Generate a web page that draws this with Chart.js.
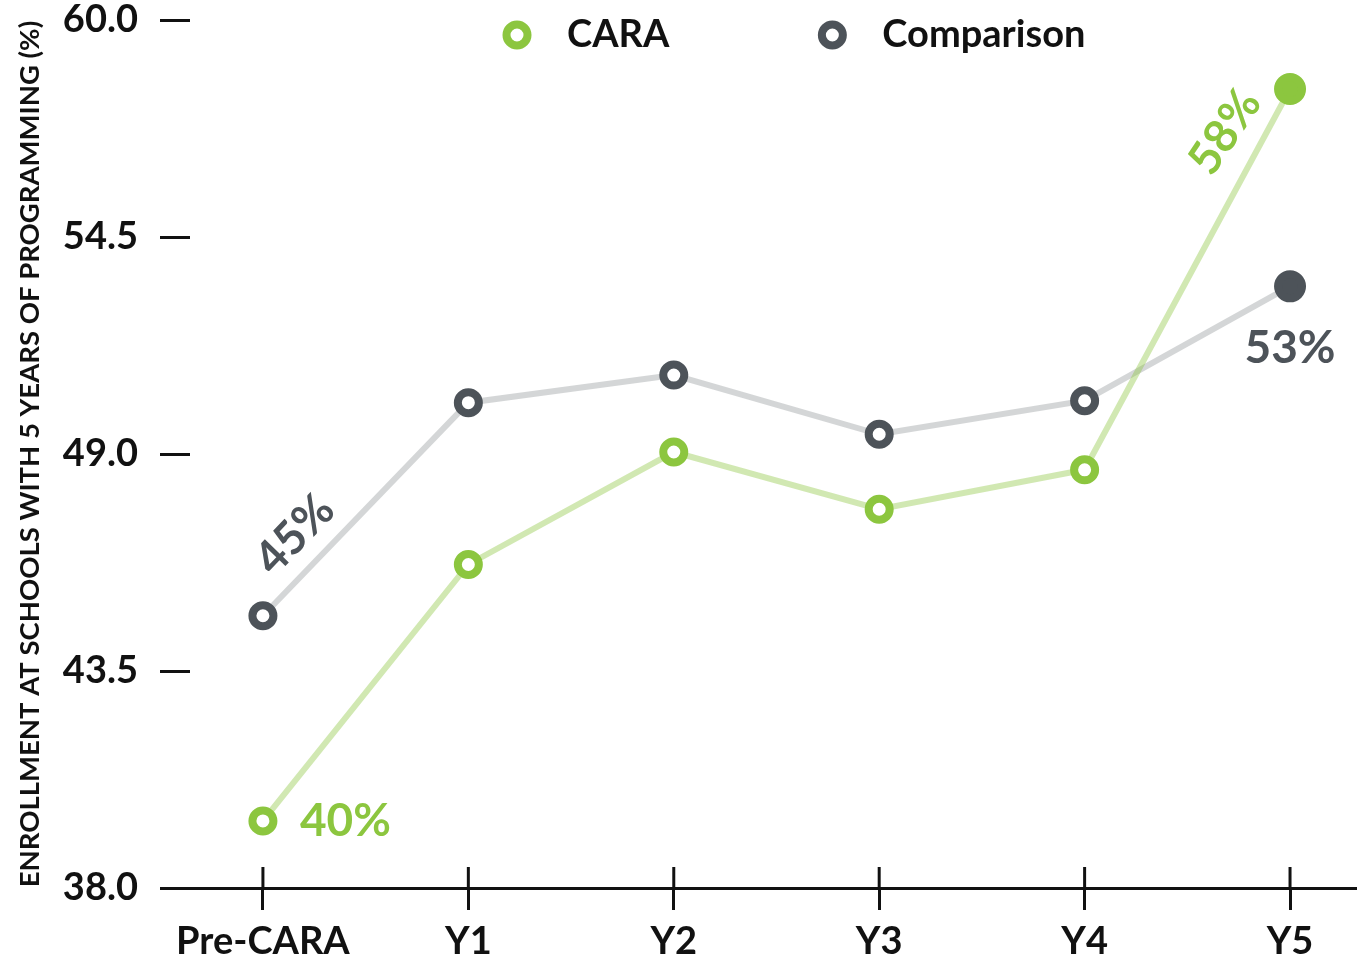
<!DOCTYPE html>
<html>
<head>
<meta charset="utf-8">
<title>Enrollment chart</title>
<script src="https://cdn.jsdelivr.net/npm/chart.js@4.4.1/dist/chart.umd.min.js"></script>
<style>
    html, body { margin: 0; padding: 0; background: #fff; overflow: hidden; }
    #wrap { width: 1357px; height: 964px; position: relative; }
    #lineChart { display: block; }
</style>
</head>
<body>
<div id="wrap"><canvas id="lineChart"></canvas></div>
<script>
// chart data
const categories = ["Pre-CARA", "Y1", "Y2", "Y3", "Y4", "Y5"];
const caraValues = [39.7, 46.2, 49.05, 47.6, 48.6, 58.25];
const comparisonValues = [44.9, 50.3, 51.0, 49.5, 50.35, 53.25];
const yTickValues = [38.0, 43.5, 49.0, 54.5, 60.0];

const green = "#8cc63f";
const greenLine = "rgba(141,198,63,0.4)";
const grey = "#4d5359";
const greyLine = "rgba(77,83,89,0.24)";
const fontFamily = "Lato, 'Noto Sans', sans-serif";

// which points get a value label, and where it sits
const pointLabels = [
    { dataset: 0, index: 0, dx: 37, dy: 0, rotate: 0, align: "left" },
    { dataset: 1, index: 0, dx: 32, dy: -81, rotate: -46, align: "center" },
    { dataset: 0, index: 5, dx: -65, dy: 43, rotate: -56, align: "center" },
    { dataset: 1, index: 5, dx: 0, dy: 62, rotate: 0, align: "center" }
];

const toPoints = (values) => values.map((v, i) => ({ x: i, y: v }));
const lastFilled = (values, color) => values.map((v, i) => i === values.length - 1 ? color : "#fff");
const lastBigger = (values) => values.map((v, i) => i === values.length - 1 ? 12 : 10.5);

// top legend drawn inside the plot area
const topLegend = {
    id: "topLegend",
    afterDraw(chart) {
        const ctx = chart.ctx;
        const area = chart.chartArea;
        ctx.save();
        ctx.font = "bold 38px " + fontFamily;
        ctx.textBaseline = "middle";
        let x = area.left + 327;
        const y = 35;
        chart.data.datasets.forEach((ds) => {
            ctx.beginPath();
            ctx.arc(x, y, 10.5, 0, Math.PI * 2);
            ctx.lineWidth = 8;
            ctx.strokeStyle = ds.pointBorderColor;
            ctx.fillStyle = "#fff";
            ctx.fill();
            ctx.stroke();
            ctx.fillStyle = "#111";
            ctx.textAlign = "left";
            ctx.fillText(ds.label, x + 50, y);
            x += 50 + ctx.measureText(ds.label).width + 163;
        });
        ctx.restore();
    }
};

// tick marks that cross the x axis line
const crossTicks = {
    id: "crossTicks",
    afterDraw(chart) {
        const ctx = chart.ctx;
        const xs = chart.scales.x;
        const bottom = chart.chartArea.bottom;
        ctx.save();
        ctx.strokeStyle = "#111";
        ctx.lineWidth = 3;
        xs.ticks.forEach((t) => {
            const px = xs.getPixelForValue(t.value);
            ctx.beginPath();
            ctx.moveTo(px, bottom - 21);
            ctx.lineTo(px, bottom);
            ctx.stroke();
        });
        ctx.restore();
    }
};

// percent labels next to selected points
const valueLabels = {
    id: "valueLabels",
    afterDatasetsDraw(chart) {
        const ctx = chart.ctx;
        ctx.save();
        ctx.font = "bold 46px " + fontFamily;
        ctx.textBaseline = "middle";
        pointLabels.forEach((lbl) => {
            const ds = chart.data.datasets[lbl.dataset];
            const pt = chart.getDatasetMeta(lbl.dataset).data[lbl.index];
            const value = ds.data[lbl.index].y;
            ctx.save();
            ctx.translate(pt.x + lbl.dx, pt.y + lbl.dy);
            ctx.rotate(lbl.rotate * Math.PI / 180);
            ctx.fillStyle = ds.pointBorderColor;
            ctx.textAlign = lbl.align;
            ctx.fillText(Math.round(value) + "%", 0, 0);
            ctx.restore();
        });
        ctx.restore();
    }
};

const ctx = document.getElementById("lineChart");

new Chart(ctx, {
    type: "line",
    data: {
        datasets: [{
            label: "CARA",
            data: toPoints(caraValues),
            borderColor: greenLine,
            borderWidth: 6,
            pointBorderColor: green,
            pointBackgroundColor: lastFilled(caraValues, green),
            pointRadius: lastBigger(caraValues),
            pointBorderWidth: 8,
            pointHoverRadius: 10.5,
            tension: 0
        }, {
            label: "Comparison",
            data: toPoints(comparisonValues),
            borderColor: greyLine,
            borderWidth: 6,
            pointBorderColor: grey,
            pointBackgroundColor: lastFilled(comparisonValues, grey),
            pointRadius: lastBigger(comparisonValues),
            pointBorderWidth: 8,
            pointHoverRadius: 10.5,
            tension: 0
        }]
    },
    options: {
        responsive: true,
        maintainAspectRatio: false,
        animation: false,
        layout: { autoPadding: false, padding: { top: 20, right: 0, bottom: 0, left: 0 } },
        plugins: {
            legend: { display: false },
            tooltip: { enabled: false }
        },
        scales: {
            x: {
                type: "linear",
                min: -0.355,
                max: 5.326,
                afterBuildTicks: (scale) => {
                    scale.ticks = categories.map((c, i) => ({ value: i }));
                },
                afterFit: (scale) => {
                    scale.height = 76;
                    scale.paddingLeft = 0;
                    scale.paddingRight = 0;
                },
                ticks: {
                    callback: (v) => categories[v],
                    color: "#111",
                    padding: 9,
                    maxRotation: 0,
                    autoSkip: false,
                    font: { family: fontFamily, size: 38, weight: "bold" }
                },
                grid: {
                    drawOnChartArea: false,
                    drawTicks: true,
                    tickLength: 22,
                    tickWidth: 3,
                    tickColor: "#111"
                },
                border: { display: true, color: "#111", width: 3 }
            },
            y: {
                min: 38,
                max: 60,
                afterBuildTicks: (scale) => {
                    scale.ticks = yTickValues.map((v) => ({ value: v }));
                },
                afterFit: (scale) => {
                    scale.width = 190;
                    scale.paddingTop = 0;
                    scale.paddingBottom = 0;
                },
                ticks: {
                    callback: (v) => v.toFixed(1),
                    color: "#111",
                    padding: 22,
                    font: { family: fontFamily, size: 38, weight: "bold" }
                },
                grid: {
                    drawOnChartArea: false,
                    drawTicks: true,
                    tickLength: 30,
                    tickWidth: 3,
                    tickColor: "#111"
                },
                border: { display: false },
                title: {
                    display: true,
                    text: "ENROLLMENT AT SCHOOLS WITH 5 YEARS OF PROGRAMMING (%)",
                    color: "#111",
                    padding: { top: 14, bottom: 0 },
                    font: { family: fontFamily, size: 27.5, weight: "bold" }
                }
            }
        }
    },
    plugins: [topLegend, crossTicks, valueLabels]
});
</script>
</body>
</html>
